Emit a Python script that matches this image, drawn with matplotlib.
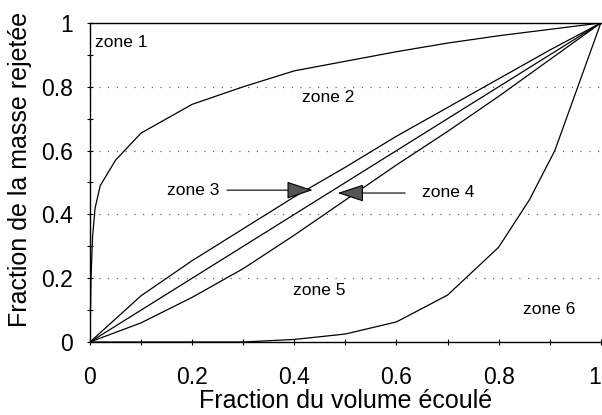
import matplotlib
matplotlib.use('Agg')
import matplotlib.pyplot as plt
from matplotlib.ticker import MultipleLocator

plt.rcParams['font.family'] = ['Liberation Sans', 'DejaVu Sans']

# courbe haute (zone 1 / zone 2)
x_haut = [0, 0.002, 0.005, 0.01, 0.02, 0.05, 0.1, 0.2, 0.3, 0.4, 0.5, 0.6, 0.7, 0.8, 0.9, 1.0]
y_haut = [0, 0.2, 0.33, 0.42, 0.49, 0.57, 0.655, 0.745, 0.8, 0.85, 0.88, 0.91, 0.937, 0.96, 0.98, 1.0]

# courbes proches de la diagonale
x_diag = [0, 0.1, 0.2, 0.3, 0.4, 0.5, 0.6, 0.7, 0.8, 0.9, 1.0]
y_dessus = [0, 0.145, 0.255, 0.355, 0.455, 0.548, 0.645, 0.735, 0.825, 0.915, 1.0]
y_milieu = [0, 0.1, 0.2, 0.3, 0.4, 0.5, 0.6, 0.7, 0.8, 0.9, 1.0]
y_dessous = [0, 0.06, 0.14, 0.23, 0.335, 0.445, 0.555, 0.66, 0.77, 0.885, 1.0]

# courbe basse (zone 5 / zone 6)
x_bas = [0, 0.3, 0.4, 0.5, 0.6, 0.7, 0.8, 0.86, 0.91, 1.0]
y_bas = [0, 0.0, 0.008, 0.025, 0.063, 0.147, 0.297, 0.445, 0.6, 1.0]

zones = ['zone 1', 'zone 2', 'zone 3', 'zone 4', 'zone 5', 'zone 6']
zones_x = [0.01, 0.415, 0.15, 0.65, 0.397, 0.847]
zones_y = [0.94, 0.765, 0.476, 0.47, 0.163, 0.103]

ticks = [0, 0.2, 0.4, 0.6, 0.8, 1.0]
tick_labels = ['0', '0.2', '0.4', '0.6', '0.8', '1']

fig = plt.figure(figsize=(6.02, 4.15), dpi=100)
ax = fig.add_axes([0.1495, 0.1759, 0.8485, 0.7687])

for yy in [0.2, 0.4, 0.6, 0.8]:
    ax.axhline(yy, color='#666666', lw=0.9, linestyle=(0, (1, 6)), zorder=1)

lw = 0.9
ax.plot(x_haut, y_haut, color='black', lw=lw)
ax.plot(x_diag, y_dessus, color='black', lw=lw)
ax.plot(x_diag, y_milieu, color='black', lw=lw)
ax.plot(x_diag, y_dessous, color='black', lw=lw)
ax.plot(x_bas, y_bas, color='black', lw=lw)

for txt, tx, ty in zip(zones, zones_x, zones_y):
    ax.text(tx, ty, txt, fontsize=12.5, va='center', ha='left')

# fleches zone 3 et zone 4
style = '-|>,head_length=1.65,head_width=0.55'
ax.annotate('', xy=(0.436, 0.476), xytext=(0.268, 0.476),
            arrowprops=dict(arrowstyle=style, mutation_scale=10, color='#444444',
                            lw=0.8, shrinkA=0, shrinkB=0, fc='#555555', ec='black'))
ax.annotate('', xy=(0.485, 0.467), xytext=(0.617, 0.467),
            arrowprops=dict(arrowstyle=style, mutation_scale=10, color='#444444',
                            lw=0.8, shrinkA=0, shrinkB=0, fc='#555555', ec='black'))

ax.set_xlim(0, 1)
ax.set_ylim(0, 1)
ax.set_xticks(ticks)
ax.set_xticklabels(tick_labels)
ax.set_yticks(ticks)
ax.set_yticklabels(tick_labels)
ax.get_xticklabels()[-1].set_ha('right')
ax.xaxis.set_minor_locator(MultipleLocator(0.1))
ax.yaxis.set_minor_locator(MultipleLocator(0.1))
ax.tick_params(which='both', direction='inout', length=5, width=0.8)
ax.tick_params(axis='x', which='major', labelsize=16.5, pad=15)
ax.tick_params(axis='y', which='major', labelsize=16.5, pad=10)
ax.tick_params(top=False, right=False)

ax.spines['right'].set_visible(False)
for s in ['left', 'bottom', 'top']:
    ax.spines[s].set_linewidth(1.0)

ax.set_xlabel('Fraction du volume écoulé', fontsize=18)
ax.set_ylabel('Fraction de la masse rejetée', fontsize=18)
ax.xaxis.set_label_coords(0.5, -0.185)
ax.xaxis.label.set_va('center')
ax.yaxis.set_label_coords(-0.137, 0.54)
ax.yaxis.label.set_va('center')

fig.savefig('out.png', dpi=100)
